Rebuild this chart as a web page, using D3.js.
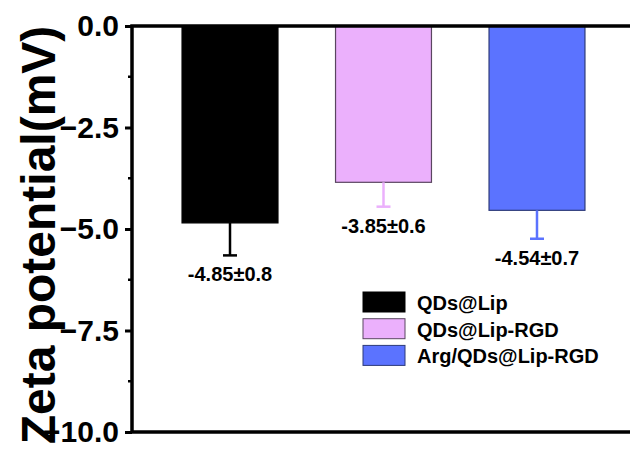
<!DOCTYPE html>
<html>
<head>
  <meta charset="utf-8">
  <script src="https://d3js.org/d3.v7.min.js"></script>
  <style>
    body { margin: 0; background: #fff; }
    text { font-family: "Liberation Sans", Arial, sans-serif; font-weight: bold; }
  </style>
</head>
<body>
<script>
  // data
  var groups = ["QDs@Lip", "QDs@Lip-RGD", "Arg/QDs@Lip-RGD"];
  var means = [-4.85, -3.85, -4.54];
  var errors = [0.8, 0.6, 0.7];
  var labels = ["-4.85\u00b10.8", "-3.85\u00b10.6", "-4.54\u00b10.7"];
  var fills = ["#000000", "#ebb0fc", "#5b73ff"];
  var strokes = ["#000000", "#5a4660", "#2d3a7a"];
  var yTicks = [0, -2.5, -5, -7.5, -10];
  var yMinor = [-1.25, -3.75, -6.25, -8.75];

  var width = 630, height = 449;
  var plotLeft = 132, plotTop = 26, plotBottom = 432, plotRight = 635;

  var svg = d3.select("body").append("svg")
      .attr("width", width)
      .attr("height", height);

  var y = d3.scaleLinear().domain([0, -10]).range([plotTop, plotBottom]);
  var x = d3.scaleBand().domain(groups).range([plotLeft, plotRight])
      .paddingInner(0.375).paddingOuter(0.326);

  // bars
  svg.selectAll("rect.bar")
      .data(groups)
      .enter().append("rect")
      .attr("class", "bar")
      .attr("x", function (d) { return x(d); })
      .attr("width", x.bandwidth())
      .attr("y", y(0))
      .attr("height", function (d, i) { return y(means[i]) - y(0); })
      .style("fill", function (d, i) { return fills[i]; })
      .style("stroke", function (d, i) { return strokes[i]; })
      .style("stroke-width", 1.2);

  // error bars (downward only)
  var eb = svg.selectAll("g.err").data(groups).enter().append("g");
  eb.append("line")
      .attr("x1", function (d) { return x(d) + x.bandwidth() / 2; })
      .attr("x2", function (d) { return x(d) + x.bandwidth() / 2; })
      .attr("y1", function (d, i) { return y(means[i]); })
      .attr("y2", function (d, i) { return y(means[i] - errors[i]); })
      .style("stroke", function (d, i) { return fills[i]; })
      .style("stroke-width", 2.5);
  eb.append("line")
      .attr("x1", function (d) { return x(d) + x.bandwidth() / 2 - 7; })
      .attr("x2", function (d) { return x(d) + x.bandwidth() / 2 + 7; })
      .attr("y1", function (d, i) { return y(means[i] - errors[i]); })
      .attr("y2", function (d, i) { return y(means[i] - errors[i]); })
      .style("stroke", function (d, i) { return fills[i]; })
      .style("stroke-width", 2.5);

  // value labels
  svg.selectAll("text.val")
      .data(labels)
      .enter().append("text")
      .attr("x", function (d, i) { return x(groups[i]) + x.bandwidth() / 2; })
      .attr("y", function (d, i) { return y(means[i] - errors[i]) + 26; })
      .attr("text-anchor", "middle")
      .style("font-size", "20px")
      .text(function (d) { return d; });

  // y axis
  var yAxis = svg.append("g")
      .attr("transform", "translate(" + plotLeft + ",0)")
      .call(d3.axisLeft(y).tickValues(yTicks).tickSize(7).tickPadding(6)
        .tickFormat(d3.format(".1f")));
  yAxis.select(".domain").remove();
  yAxis.selectAll("line").style("stroke", "#000").style("stroke-width", 3);
  yAxis.selectAll("text").style("font-size", "30px").style("fill", "#000");

  svg.selectAll("line.minor")
      .data(yMinor)
      .enter().append("line")
      .attr("x1", plotLeft - 4).attr("x2", plotLeft)
      .attr("y1", function (d) { return y(d); })
      .attr("y2", function (d) { return y(d); })
      .style("stroke", "#000").style("stroke-width", 2.5);

  // frame lines
  svg.append("path")
      .attr("d", "M" + width + "," + plotTop + "H" + plotLeft + "V" + plotBottom + "H" + width)
      .style("fill", "none")
      .style("stroke", "#000")
      .style("stroke-width", 3.5);

  // y title
  svg.append("text")
      .attr("transform", "translate(55," + ((plotTop + plotBottom) / 2 + 6) + ") rotate(-90)")
      .attr("text-anchor", "middle")
      .style("font-size", "48px")
      .text("Zeta potential(mV)");

  // legend
  var legend = svg.selectAll("g.legend")
      .data(groups)
      .enter().append("g")
      .attr("transform", function (d, i) { return "translate(363," + (292 + i * 26.7) + ")"; });
  legend.append("rect")
      .attr("width", 42).attr("height", 20)
      .style("fill", function (d, i) { return fills[i]; })
      .style("stroke", function (d, i) { return strokes[i]; })
      .style("stroke-width", 1);
  legend.append("text")
      .attr("x", 54).attr("y", 18)
      .style("font-size", "20px")
      .text(function (d) { return d; });
</script>
</body>
</html>
